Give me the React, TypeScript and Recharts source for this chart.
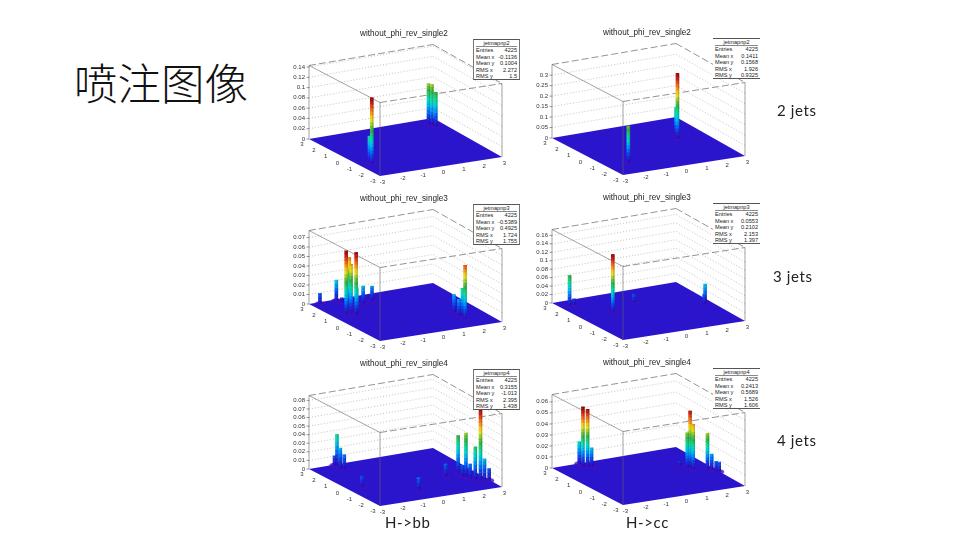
import React from "react";
import { ComposedChart, XAxis, YAxis, Line, Area, Scatter } from "recharts";

// towers: [x, y, height]
const towers1 = [[-2.47,-1.39,0.13],[-2.44,-1.14,0.052],[2.43,2.37,0.079],[2.47,2.14,0.08],[2.54,1.93,0.067]];
const towers2 = [[-1.91,-1.57,0.176],[1.6,0.376,0.313],[1.78,0.82,0.133]];
const towers3 = [[-2.58,2.81,0.011],[-1.78,2.82,0.022],[-2.36,0.97,0.067],[-2.03,0.7,0.066],[-1.77,1.74,0.053],[-2.06,1.08,0.051],[-1.69,2.51,0.005],[-1.01,1.89,0.019],[-0.49,2.05,0.016],[-1.96,0.77,0.028],[1.77,-1.97,0.057],[1.91,-1.5,0.029],[1.82,-0.92,0.019],[1.77,-1.43,0.0175]];
const towers4 = [[-2.55,2.3,0.072],[-2.31,2.34,0.014],[-1.4,0.64,0.137],[0.02,1.35,0.021],[2.73,-0.01,0.044],[2.58,-0.2,0.024]];
const towers5 = [[-1.71,2.89,0.036],[-1.82,2.41,0.024],[-1.72,2.25,0.017],[-1.8,2.94,0.011],[-2.32,-0.28,0.013],[-0.42,-1.81,0.015],[1.55,-0.67,0.015],[2.26,-0.5,0.044],[2.32,-1.07,0.051],[2.18,-1.0,0.0135],[2.44,-1.67,0.039],[2.64,-1.77,0.085],[2.36,-1.36,0.017],[2.79,-1.85,0.025],[2.95,-1.97,0.014]];
const towers6 = [[-1.76,2.55,0.054],[-1.59,2.45,0.052],[-1.71,2.95,0.02],[-1.44,2.38,0.017],[2.15,0.26,0.0515],[2.15,-0.01,0.041],[2.04,0.31,0.032],[2.69,-0.29,0.033],[2.85,-0.37,0.014],[2.9,-0.67,0.009],[2.97,-0.81,0.009],[1.89,0.66,0.0045]];

const zTicks1 = [0,0.02,0.04,0.06,0.08,0.1,0.12,0.14];
const zTicks2 = [0,0.05,0.1,0.15,0.2,0.25,0.3];
const zTicks3 = [0,0.01,0.02,0.03,0.04,0.05,0.06,0.07];
const zTicks4 = [0,0.02,0.04,0.06,0.08,0.1,0.12,0.14,0.16];
const zTicks5 = [0,0.01,0.02,0.03,0.04,0.05,0.06,0.07,0.08];
const zTicks6 = [0,0.01,0.02,0.03,0.04,0.05,0.06];
const floorTicks = [-3,-2,-1,0,1,2,3];

const statNames = ["Entries","Mean x","Mean y","RMS x","RMS y"];
const stats1 = ["4225","-0.1136","0.1004","2.272","1.5"];
const stats2 = ["4225","0.1411","0.1568","1.926","0.9325"];
const stats3 = ["4225","-0.5389","0.4925","1.724","1.755"];
const stats4 = ["4225","0.0553","0.2102","2.153","1.397"];
const stats5 = ["4225","0.3155","-1.013","2.395","1.438"];
const stats6 = ["4225","0.2413","0.5689","1.526","1.606"];

const palette = ["#2a14cc","#1f2ad8","#1048ee","#0070ff","#0098f8","#00bce8","#00d4d0","#10d8a0","#20cc70","#30b850","#60c040","#a0d030","#e0e020","#f8c818","#f89818","#f07018","#e04818","#c82018","#a81010"];
const FLOOR = "#2a14cc";

const LEFT = [30,120], FRONT = [101,157], RIGHT = [223,138], BACK = [154,99];
const WALL = 73.5;

function base(x: number, y: number) {
  const a = (x + 3) / 6, b = (y + 3) / 6;
  const f = (i: number) => FRONT[i] + a * (RIGHT[i] - FRONT[i]) + b * (LEFT[i] - FRONT[i]) + a * b * (BACK[i] - LEFT[i] - RIGHT[i] + FRONT[i]);
  return { u: f(0), v: f(1) };
}

const towerShape = (p: any) => {
  const d = p.payload;
  return (
    <g>
      <rect x={p.cx - d.w / 2} y={p.cy - d.h / 2} width={d.w} height={d.h} fill={d.fill} />
      <rect x={p.cx + d.w * 0.1} y={p.cy - d.h / 2} width={d.w * 0.4} height={d.h} fill="#000" opacity={0.16} />
    </g>
  );
};

const haloShape = (p: any) => <ellipse cx={p.cx} cy={p.cy} rx={5} ry={2.5} fill="#3d12c2" opacity={0.8} />;

const labelShape = (p: any) => {
  const d = p.payload;
  return (
    <text x={p.cx} y={p.cy} fontFamily="'Liberation Sans'" fontSize={6} fill="#333" textAnchor={d.anchor} dominantBaseline="middle">
      {d.text}
    </text>
  );
};

type PanelProps = { ox: number; oy: number; statLeft: number; title: string; name: string; stats: string[]; towers: number[][]; ticks: number[]; zTop: number; full: boolean };

function Panel({ ox, oy, statLeft, title, name, stats, towers, ticks, zTop, full }: PanelProps) {
  const px = WALL / zTop;
  const colorMax = Math.max(...towers.map((t) => t[2]));
  const bands = palette.length;
  const sorted = [...towers].sort((a, b) => b[0] + b[1] - a[0] - a[1]);
  const segments: any[] = [];
  sorted.forEach(([x, y, z]) => {
    const b = base(x, y);
    const step = colorMax / bands;
    for (let i = 0; i * step < z; i++) {
      const lo = i * step, hi = Math.min(z, (i + 1) * step);
      segments.push({ u: b.u, v: b.v - ((lo + hi) / 2) * px, w: 3.6, h: (hi - lo) * px + 0.4, fill: palette[i] });
    }
  });
  const halos = towers.map(([x, y]) => base(x, y));
  const floor = [
    { u: LEFT[0], r: [LEFT[1], LEFT[1]] },
    { u: FRONT[0], r: [LEFT[1] + ((BACK[1] - LEFT[1]) * (FRONT[0] - LEFT[0])) / (BACK[0] - LEFT[0]), FRONT[1]] },
    { u: BACK[0], r: [BACK[1], FRONT[1] + ((RIGHT[1] - FRONT[1]) * (BACK[0] - FRONT[0])) / (RIGHT[0] - FRONT[0])] },
    { u: RIGHT[0], r: [RIGHT[1], RIGHT[1]] },
  ];
  const top = (c: number[]) => ({ u: c[0], v: c[1] - WALL });
  const pt = (c: number[]) => ({ u: c[0], v: c[1] });
  const frameSolid = [
    [top(LEFT), pt(LEFT)],
    [top(RIGHT), pt(RIGHT)],
    [top(FRONT), pt(FRONT)],
    [top(LEFT), top(FRONT)],
  ];
  const frameDashed = [
    [top(LEFT), top(BACK)],
    [top(BACK), top(RIGHT)],
    [top(FRONT), top(RIGHT)],
  ];
  const grid = ticks.slice(1).map((t) => [
    { u: LEFT[0], v: LEFT[1] - t * px },
    { u: BACK[0], v: BACK[1] - t * px },
    { u: RIGHT[0], v: RIGHT[1] - t * px },
  ]);
  const zMarks = ticks.map((t) => [
    { u: LEFT[0] - 2.5, v: LEFT[1] - t * px },
    { u: LEFT[0], v: LEFT[1] - t * px },
  ]);
  const labels = [
    ...ticks.map((t) => ({ u: LEFT[0] - 4, v: LEFT[1] - t * px, text: String(t), anchor: "end" })),
    ...floorTicks.map((t) => {
      const b = base(-3, t);
      return { u: b.u - 7, v: b.v + 5.5, text: String(t), anchor: "middle" };
    }),
    ...floorTicks.map((t) => {
      const b = base(t, -3);
      return { u: b.u + 2.5, v: b.v + 6, text: String(t), anchor: "middle" };
    }),
  ];
  return (
    <div style={{ position: "absolute", left: ox, top: oy, width: 260, height: 190, filter: "blur(0.4px)" }}>
      <ComposedChart width={260} height={190} margin={{ top: 0, right: 0, bottom: 0, left: 0 }}>
        <XAxis type="number" dataKey="u" domain={[0, 260]} hide allowDataOverflow />
        <YAxis type="number" dataKey="v" domain={[0, 190]} reversed hide allowDataOverflow />
        {grid.map((d, i) => (
          <Line key={"g" + i} data={d} dataKey="v" stroke="#a8a8a8" strokeWidth={0.7} strokeDasharray="1 2" dot={false} isAnimationActive={false} />
        ))}
        {frameDashed.map((d, i) => (
          <Line key={"d" + i} data={d} dataKey="v" stroke="#666" strokeWidth={0.7} strokeDasharray="7 3" dot={false} isAnimationActive={false} />
        ))}
        {frameSolid.map((d, i) => (
          <Line key={"s" + i} data={d} dataKey="v" stroke="#666" strokeWidth={0.6} dot={false} isAnimationActive={false} />
        ))}
        {zMarks.map((d, i) => (
          <Line key={"m" + i} data={d} dataKey="v" stroke="#555" strokeWidth={0.6} dot={false} isAnimationActive={false} />
        ))}
        <Area data={floor} dataKey="r" type="linear" fill={FLOOR} fillOpacity={1} stroke="none" dot={false} activeDot={false} isAnimationActive={false} />
        <Scatter data={halos} shape={haloShape} isAnimationActive={false} />
        <Scatter data={segments} shape={towerShape} isAnimationActive={false} />
        <Scatter data={labels} shape={labelShape} isAnimationActive={false} />
      </ComposedChart>
      <div style={{ position: "absolute", left: 0, width: 250, top: 10, textAlign: "center", fontFamily: "'Liberation Sans'", fontSize: 8.2, lineHeight: "10px", color: "#222", whiteSpace: "nowrap" }}>{title}</div>
      <div
        style={{
          position: "absolute", left: statLeft, top: 20, width: 47, height: 41, boxSizing: "border-box", background: "#fff",
          borderTop: "1px solid #555", borderBottom: "1px solid #555", borderLeft: full ? "1px solid #777" : "none", borderRight: full ? "1px solid #777" : "none",
          fontFamily: "'Liberation Sans'", fontSize: 5.6, lineHeight: "6.4px", color: "#222", padding: "0 2px",
        }}
      >
        <div style={{ textAlign: "center", borderBottom: "0.5px solid #888" }}>{name}</div>
        {statNames.map((n, i) => (
          <div key={n} style={{ display: "flex", justifyContent: "space-between" }}>
            <span>{n}</span>
            <span>{stats[i]}</span>
          </div>
        ))}
      </div>
    </div>
  );
}

const sideText = (text: string, left: number, top: number) => (
  <div style={{ position: "absolute", left, top, fontFamily: "Lato, 'Open Sans'", fontSize: 15, lineHeight: "18px", color: "#222", whiteSpace: "nowrap", letterSpacing: 0.6 }}>{text}</div>
);

export default function App() {
  return (
    <div style={{ position: "absolute", left: 0, top: 0, width: 960, height: 540, background: "#fff", overflow: "hidden" }}>
      <div style={{ position: "absolute", left: 74, top: 56, fontFamily: "'Noto Sans CJK SC'", fontWeight: 300, fontSize: 43.5, lineHeight: "52px", color: "#111", whiteSpace: "nowrap" }}>喷注图像</div>
      <Panel ox={279} oy={19} statLeft={194} title="without_phi_rev_single2" name="jetmapnp2" stats={stats1} towers={towers1} ticks={zTicks1} zTop={0.143} full />
      <Panel ox={522} oy={18} statLeft={191} title="without_phi_rev_single2" name="jetmapnp2" stats={stats2} towers={towers2} ticks={zTicks2} zTop={0.351} full={false} />
      <Panel ox={279} oy={184} statLeft={194} title="without_phi_rev_single3" name="jetmapnp3" stats={stats3} towers={towers3} ticks={zTicks3} zTop={0.0774} full />
      <Panel ox={522} oy={183} statLeft={191} title="without_phi_rev_single3" name="jetmapnp3" stats={stats4} towers={towers4} ticks={zTicks4} zTop={0.174} full={false} />
      <Panel ox={279} oy={349} statLeft={194} title="without_phi_rev_single4" name="jetmapnp4" stats={stats5} towers={towers5} ticks={zTicks5} zTop={0.0857} full />
      <Panel ox={522} oy={348} statLeft={191} title="without_phi_rev_single4" name="jetmapnp4" stats={stats6} towers={towers6} ticks={zTicks6} zTop={0.0667} full={false} />
      {sideText("2 jets", 777, 101)}
      {sideText("3 jets", 773, 267)}
      {sideText("4 jets", 777, 431)}
      {sideText("H->bb", 385, 513)}
      {sideText("H->cc", 626, 513)}
    </div>
  );
}
